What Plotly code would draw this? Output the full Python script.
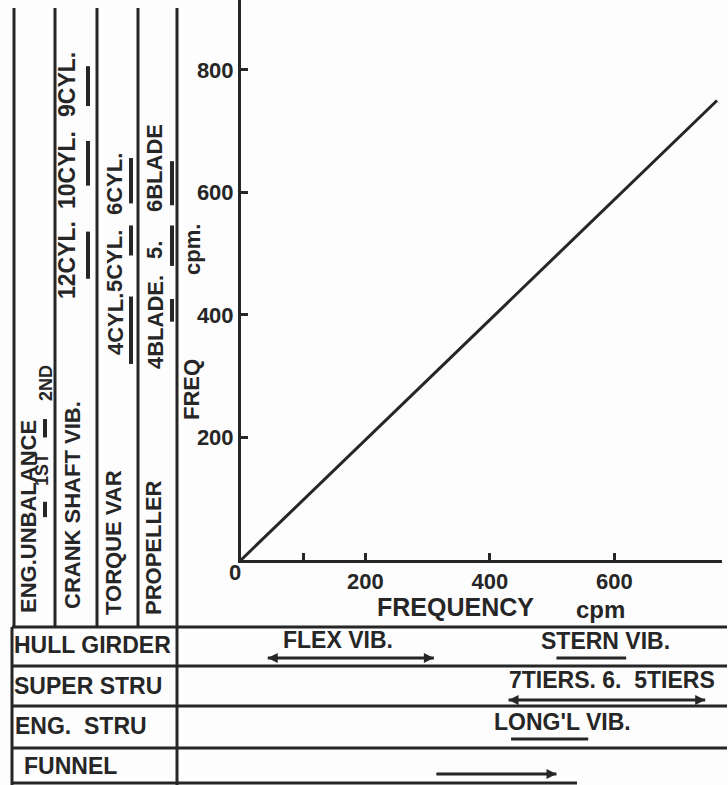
import plotly.graph_objects as go

# ---------------- data (cpm) ----------------
freq_line_x = [0, 765]
freq_line_y = [0, 750]

x_tickvals = [100, 200, 400, 600]
x_ticktext = ["", "200", "400", "600"]
y_tickvals = [200, 400, 600, 800]
y_ticktext = ["200", "400", "600", "800"]

# vertical frequency-range bars in the left columns (cpm)
eng_unbalance_bars = [[70, 95], [200, 230]]              # 1ST, 2ND
crank_shaft_bars = [[459, 536], [611, 684], [741, 806]]  # 12, 10, 9 CYL
torque_var_bars = [[320, 430], [497, 546], [582, 656]]   # 4, 5, 6 CYL
propeller_bars = [[389, 426], [480, 546], [579, 651]]    # 4, 5, 6 BLADE

# horizontal frequency ranges in the bottom table (cpm)
hull_flex_range = [43, 310]
hull_stern_range = [507, 619]
super_stru_range = [430, 746]
eng_stru_range = [434, 558]
funnel_range = [314, 507]

# ---------------- helpers ----------------
W, H = 728, 785
INK = "#262626"
BG = "#fdfdfd"
FONT = "Liberation Sans"
NB = "\u00a0"


def px(x):
    return x / W


def py(y):
    return 1 - y / H


shapes = []
annotations = []


def pline(x0, y0, x1, y1, w=3):
    shapes.append(dict(type="line", xref="paper", yref="paper",
                       x0=px(x0), y0=py(y0), x1=px(x1), y1=py(y1),
                       line=dict(color=INK, width=w), layer="above"))


def text(s, x, y, size=21, angle=0, xanchor="center"):
    annotations.append(dict(text=s, xref="paper", yref="paper", x=px(x), y=py(y),
                            xanchor=xanchor, yanchor="middle", showarrow=False,
                            textangle=angle,
                            font=dict(family=FONT, size=size, color=INK, weight=700)))


# left column separators
for cx in [14, 55, 97, 138, 177]:
    pline(cx, 8, cx, 627)

# bottom table grid
pline(12, 627, 727, 627)
pline(12, 666, 727, 666)
pline(12, 706, 727, 706)
pline(12, 748, 727, 748)
pline(12, 783, 577, 783)
pline(12, 627, 12, 785)
pline(177, 627, 177, 785)

# left column range bars (x in paper, y in data)
for bars, cx in [(eng_unbalance_bars, 45), (crank_shaft_bars, 88),
                 (torque_var_bars, 131), (propeller_bars, 172)]:
    for lo, hi in bars:
        shapes.append(dict(type="line", xref="paper", yref="y",
                           x0=px(cx), x1=px(cx), y0=lo, y1=hi,
                           line=dict(color=INK, width=4), layer="above"))

# bottom table range bars (x in data, y in paper)
for (lo, hi), yy in [(hull_flex_range, 658), (hull_stern_range, 658),
                     (super_stru_range, 700), (eng_stru_range, 739),
                     (funnel_range, 774)]:
    shapes.append(dict(type="line", xref="x", yref="paper",
                       x0=lo, x1=hi, y0=py(yy), y1=py(yy),
                       line=dict(color=INK, width=3), layer="above"))


def arrowhead(xv, yy, direction):
    annotations.append(dict(text="", xref="x", yref="paper", x=xv, y=py(yy),
                            ax=-14 * direction, ay=0, showarrow=True,
                            arrowhead=2, arrowsize=1, arrowwidth=2,
                            arrowcolor=INK, standoff=0))


arrowhead(hull_flex_range[1], 658, 1)
arrowhead(hull_flex_range[0], 658, -1)
arrowhead(super_stru_range[1], 700, 1)
arrowhead(super_stru_range[0], 700, -1)
arrowhead(funnel_range[1], 774, 1)

# rotated column texts
text("ENG.UNBALANCE", 28, 517, 22, -90)
text("1ST", 42, 470, 18, -90)
text("2ND", 46, 383, 18, -90)
text("CRANK SHAFT VIB.", 72, 505, 22, -90)
text("12CYL.", 67, 260, 23, -90)
text("10CYL.", 67, 170, 23, -90)
text("9CYL.", 67, 85, 23, -90)
text("TORQUE VAR", 113, 543, 22, -90)
text("4CYL.", 115, 324, 22, -90)
text("5CYL.", 115, 261, 22, -90)
text("6CYL.", 115, 184, 22, -90)
text("PROPELLER", 153, 548, 22, -90)
text("4BLADE.", 155, 322, 22, -90)
text("5.", 155, 250, 22, -90)
text("6BLADE", 155, 168, 22, -90)
text("FREQ", 191, 390, 22, -90)
text("cpm.", 193, 250, 22, -90)

# axis texts
text("0", 235, 572, 22)
text("FREQUENCY", 455, 607, 25)
text("cpm", 600, 609, 24)

# table texts
text("HULL GIRDER", 12, 645, 23, 0, "left")
text("SUPER STRU", 12, 686, 23, 0, "left")
text("ENG." + NB + " STRU", 13, 726, 23, 0, "left")
text("FUNNEL", 22, 766, 23, 0, "left")
text("FLEX VIB.", 338, 640, 23)
text("STERN VIB.", 605, 641, 23)
text("7TIERS." + NB + "6." + NB + NB + "5TIERS", 612, 680, 23)
text("LONG'L VIB.", 562, 722, 23)

fig = go.Figure()
fig.add_trace(go.Scatter(x=freq_line_x, y=freq_line_y, mode="lines",
                         line=dict(color=INK, width=3), hoverinfo="skip",
                         showlegend=False))

axis_common = dict(showline=True, linewidth=3, linecolor=INK, ticks="inside",
                   ticklen=7, tickwidth=2.5, tickcolor=INK, showgrid=False,
                   zeroline=False,
                   tickfont=dict(family=FONT, size=22, color=INK, weight=700))

fig.update_layout(
    width=W, height=H, margin=dict(l=0, r=0, t=0, b=0),
    paper_bgcolor=BG, plot_bgcolor=BG, showlegend=False,
    xaxis=dict(domain=[241 / W, 722 / W], range=[0, 773],
               tickvals=x_tickvals, ticktext=x_ticktext, **axis_common),
    yaxis=dict(domain=[1 - 560 / H, 1], range=[0, 914],
               tickvals=y_tickvals, ticktext=y_ticktext, **axis_common),
    shapes=shapes, annotations=annotations,
)

fig.write_html("out.html", config={"displayModeBar": False},
               post_script="document.body.style.margin='0';document.body.style.overflow='hidden';")
